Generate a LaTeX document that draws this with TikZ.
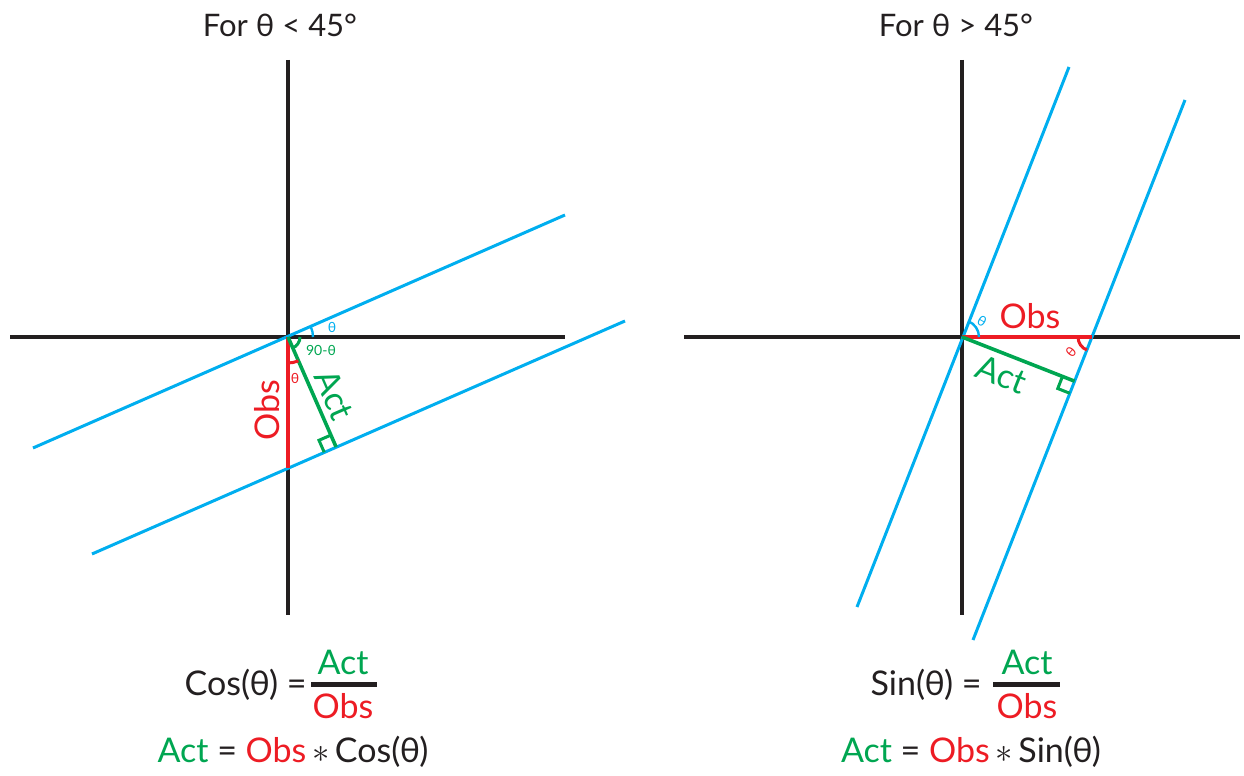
\documentclass[tikz,border=0pt]{standalone}
\usepackage{fontspec}
\setmainfont{Lato}
\usetikzlibrary{calc}
\definecolor{ink}{HTML}{231F20}
\definecolor{beamblue}{HTML}{00AEEF}
\definecolor{obsred}{HTML}{ED1C24}
\definecolor{actgreen}{HTML}{00A651}

\begin{document}
\begin{tikzpicture}[x=0.5pt, y=0.5pt,
    axis/.style={draw=ink, line width=2pt},
    beam/.style={draw=beamblue, line width=1.5pt},
    obsline/.style={draw=obsred, line width=2pt},
    actline/.style={draw=actgreen, line width=1.8pt},
    big/.style={font=\fontsize{17}{20}\selectfont, inner sep=0pt},
    tiny/.style={font=\fontsize{7}{8}\selectfont, inner sep=0pt},
    title/.style={font=\fontsize{15.5}{18}\selectfont, text=ink, inner sep=0pt}]

    \useasboundingbox (0,0) rectangle (1244,776);

    % Left panel: theta < 45
    \node[title] (ltitle) at (280,751) {For θ < 45°};
    \coordinate (LO) at (288,439);
    \coordinate (LT) at (288,716);
    \coordinate (LD) at (288,161);
    \coordinate (LL) at (10,439);
    \coordinate (LR) at (565,439);
    \coordinate (LA1) at (33,328);
    \coordinate (LA2) at (565,561);
    \coordinate (LB1) at (92,222);
    \coordinate (LB2) at (625,455);
    \coordinate (LP) at (288,308);
    \coordinate (Lf) at (336.1,329);

    \draw[axis] (LT) -- (LD);
    \draw[axis] (LL) -- (LR);
    \draw[beam] (LA1) -- (LA2);
    \draw[beam] (LB1) -- (LB2);
    \draw[obsline] (LO) -- (LP);
    \draw[actline] (LO) -- (Lf);

    % right angle at the foot
    \coordinate (lm1) at ($(Lf)!6.5pt!(LO)$);
    \coordinate (lm2) at ($(Lf)!6.5pt!(LB1)$);
    \draw[actline, line width=1.5pt] (lm1) -- ($(lm1)+(lm2)-(Lf)$) -- (lm2);

    % angles at the origin
    \draw[beam, line width=1.2pt] ($(LO)+(0:25)$) arc[start angle=0, end angle=23.65, radius=25];
    \draw[actline, line width=1.5pt] ($(LO)+(0:12)$) arc[start angle=0, end angle=-66.4, radius=12];
    \draw[obsline, line width=1.5pt] ($(LO)+(-90:26)$) arc[start angle=-90, end angle=-66.4, radius=26];
    \node[tiny, text=beamblue] (lth1) at (332,449) {θ};
    \node[tiny, text=actgreen] (lninety) at (321,426) {90-θ};
    \node[tiny, text=obsred] (lth2) at (295,398) {θ};
    \node[big, text=obsred, rotate=90] (lobs) at (267,366) {Obs};
    \node[big, text=actgreen, rotate=-66.4, anchor=south] (lact) at (323,376) {Act};

    % Left formula
    \node[big, text=ink, anchor=east] (lcos) at (307,91) {Cos(θ) =};
    \draw[ink, line width=2.5pt] (311,91) -- (377,91);
    \node[big, text=actgreen] (lnum) at (343,114) {Act};
    \node[big, text=obsred] (lden) at (343,70) {Obs};
    \node[big] (lrule) at (293,24) {\textcolor{actgreen}{Act} \textcolor{ink}{=} \textcolor{obsred}{Obs}\,\textcolor{ink}{$\ast$}\,\textcolor{ink}{Cos(θ)}};

    % Right panel: theta > 45
    \node[title] (rtitle) at (956,751) {For θ > 45°};
    \coordinate (RO) at (962,439);
    \coordinate (RT) at (962,716);
    \coordinate (RD) at (962,161);
    \coordinate (RL) at (684,439);
    \coordinate (RR) at (1240,439);
    \coordinate (RA1) at (857,169);
    \coordinate (RA2) at (1069,709);
    \coordinate (RB1) at (973,136);
    \coordinate (RB2) at (1185,676);
    \coordinate (RP) at (1092,439);
    \coordinate (Rf) at (1074.6,394.8);

    \draw[axis] (RT) -- (RD);
    \draw[axis] (RL) -- (RR);
    \draw[beam] (RA1) -- (RA2);
    \draw[beam] (RB1) -- (RB2);
    \draw[obsline] (RO) -- (RP);
    \draw[actline] (RO) -- (Rf);

    % right angle at the foot
    \coordinate (rm1) at ($(Rf)!6.5pt!(RO)$);
    \coordinate (rm2) at ($(Rf)!6.5pt!(RB1)$);
    \draw[actline, line width=1.5pt] (rm1) -- ($(rm1)+(rm2)-(Rf)$) -- (rm2);

    % angles
    \draw[beam, line width=1.2pt] ($(RO)+(0:17)$) arc[start angle=0, end angle=68.56, radius=17];
    \draw[obsline, line width=1.5pt] ($(RP)+(180:14)$) arc[start angle=180, end angle=248.56, radius=14];
    \node[tiny, text=beamblue, rotate=-30] (rth1) at (982,455) {θ};
    \node[tiny, text=obsred, rotate=50] (rth2) at (1071,424) {θ};
    \node[big, text=obsred] (robs) at (1030,460) {Obs};
    \node[big, text=actgreen, rotate=-21.4, anchor=north] (ract) at (1006,413) {Act};

    % Right formula
    \node[big, text=ink, anchor=east] (rsin) at (982,91) {Sin(θ) =};
    \draw[ink, line width=2.5pt] (993,91) -- (1060,91);
    \node[big, text=actgreen] (rnum) at (1027,114) {Act};
    \node[big, text=obsred] (rden) at (1027,70) {Obs};
    \node[big] (rrule) at (971,24) {\textcolor{actgreen}{Act} \textcolor{ink}{=} \textcolor{obsred}{Obs}\,\textcolor{ink}{$\ast$}\,\textcolor{ink}{Sin(θ)}};
\end{tikzpicture}
\end{document}
